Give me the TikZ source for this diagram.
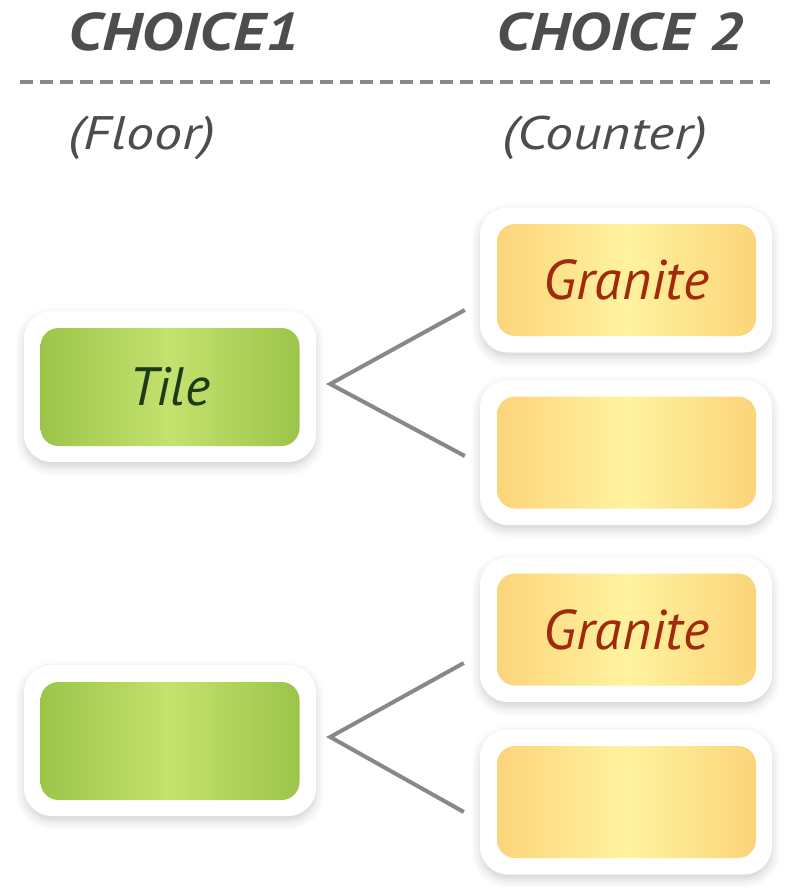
\documentclass[tikz,border=0pt]{standalone}
\usepackage{fontspec}
\setmainfont{PT Sans}
\newfontfamily\titlefont{PT Sans}[FakeStretch=1.19]
\usetikzlibrary{shadows.blur}

\definecolor{headgray}{HTML}{4D4D4D}
\definecolor{linkgray}{HTML}{888888}
\definecolor{greenedge}{HTML}{9CC44A}
\definecolor{greenmid}{HTML}{C4E26E}
\definecolor{greentext}{HTML}{1D3B18}
\definecolor{sandedge}{HTML}{FCD47A}
\definecolor{sandmid}{HTML}{FFF39F}
\definecolor{sandtext}{HTML}{A02A0A}

\tikzset{
  head/.style={text=headgray, inner sep=0pt, font=\titlefont\bfseries\itshape\fontsize{53}{53}\selectfont},
  sub/.style={text=headgray, inner sep=0pt, font=\titlefont\itshape\fontsize{47}{47}\selectfont},
  card/.style={fill=white, rounded corners=28pt, minimum width=292pt, minimum height=#1,
    blur shadow={shadow xshift=0pt, shadow yshift=-5pt, shadow blur radius=9pt, shadow opacity=18}},
  floorbox/.style={rounded corners=18pt, minimum width=259pt, minimum height=118pt, inner sep=0pt,
    left color=greenedge, right color=greenedge, middle color=greenmid,
    text=greentext, font=\itshape\fontsize{54}{54}\selectfont},
  counterbox/.style={rounded corners=18pt, minimum width=259pt, minimum height=112pt, inner sep=0pt,
    left color=sandedge, right color=sandedge, middle color=sandmid,
    text=sandtext, font=\itshape\fontsize{56}{56}\selectfont},
  link/.style={draw=linkgray, line width=4pt}
}

\begin{document}
\begin{tikzpicture}[x=1pt,y=-1pt]

    \useasboundingbox (0,0) rectangle (800,896);

    % column titles
    \node[head, anchor=base] (colA) at (184,51) {CHOICE1};
    \node[head, anchor=base] (colB) at (620,51) {CHOICE 2};
    \draw[linkgray, line width=4pt, dash pattern=on 13pt off 7pt] (20,82) -- (770,82);
    \node[sub, anchor=base] (subA) at (142,150) {(Floor)};
    \node[sub, anchor=base] (subB) at (605,150) {(Counter)};

    % floor choices
    \node[card=151pt] (tile-card) at (170,386.5) {};
    \node[floorbox] (tile) at (170,387) {Tile};
    \node[card=151pt] (floor-card) at (170,740.5) {};
    \node[floorbox] (floor) at (170,741) {};

    % counter choices
    \foreach \name/\y/\txt in {granA/280/Granite, cntB/452.5/{}, granC/629.5/Granite, cntD/802/{}} {
        \node[card=145pt] (\name-card) at (626,\y) {};
        \node[counterbox] (\name) at (626.5,\y) {\txt};
    }

    \draw[link] ([xshift=-15pt,yshift=-30pt]granA-card.west) -- ([xshift=14pt,yshift=2.5pt]tile-card.east)
        -- ([xshift=-15pt,yshift=-3.5pt]cntB-card.west);
    \draw[link] ([xshift=-16pt,yshift=-33.5pt]granC-card.west) -- ([xshift=14pt,yshift=3.5pt]floor-card.east)
        -- ([xshift=-16pt,yshift=-10pt]cntD-card.west);

\end{tikzpicture}
\end{document}
